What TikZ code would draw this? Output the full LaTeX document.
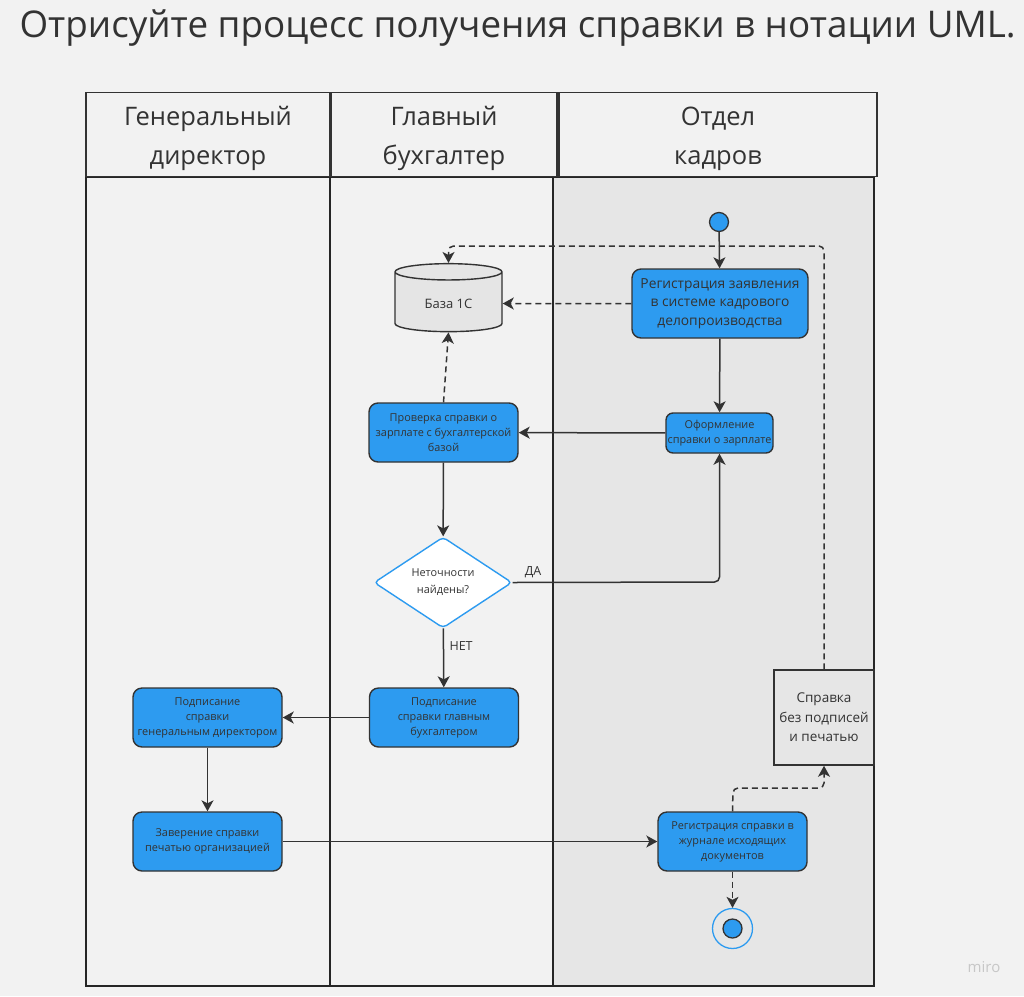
\documentclass[tikz,border=0pt]{standalone}
\usepackage{fontspec}
\setmainfont{Open Sans}
\usetikzlibrary{shapes.geometric,arrows.meta}
\definecolor{bggray}{HTML}{F2F2F2}
\definecolor{lanegray}{HTML}{E6E6E6}
\definecolor{actblue}{HTML}{2D9BF0}
\definecolor{ink}{HTML}{333333}
\tikzset{
  act/.style={draw=ink, fill=actblue, rounded corners=9pt, line width=1.4pt, align=center, text=ink,
    font=\fontsize{10.9}{15}\selectfont, minimum width=149pt, minimum height=59pt, inner sep=1pt},
  headbox/.style={draw=ink, line width=1.5pt, minimum height=84pt},
  headtxt/.style={align=center, text=ink, font=\fontsize{25.5}{39}\selectfont},
  flow/.style={draw=ink, line width=1.5pt, -{Stealth[length=11pt,width=12pt,inset=3pt]}},
  dflow/.style={flow, dash pattern=on 6pt off 4pt},
  lbl/.style={text=ink, font=\fontsize{12.5}{14}\selectfont},
}
\begin{document}
\begin{tikzpicture}[x=1pt, y=-1pt]
  \fill[bggray] (0,0) rectangle (1024,996);
  \useasboundingbox (0,0) rectangle (1024,996);
  \node[anchor=west, text=ink, font=\fontsize{36.8}{40}\selectfont] (title) at (16,28) {Отрисуйте процесс получения справки в нотации UML.};
  \node[text=black!22, font=\fontsize{15}{17}\selectfont] (miro) at (984,967) {miro};

  \fill[lanegray] (553,177) rectangle (874,986);
  \foreach \a/\b in {86/330, 330/553, 553/874}{ \draw[line width=1.6pt, black!85] (\a,177) rectangle (\b,986); }
  \node[headbox, minimum width=244pt] (gd) at (208,134.5) {};
  \node[headbox, minimum width=226pt] (gb) at (444,134.5) {};
  \node[headbox, minimum width=318pt] (ok) at (718,134.5) {};
  \node[headtxt] (gdtxt) at (208,138.5) {Генеральный\\директор};
  \node[headtxt] (gbtxt) at (444,138.5) {Главный\\бухгалтер};
  \node[headtxt] (oktxt) at (718,138.5) {Отдел\\кадров};

  \node[circle, draw=ink, fill=actblue, line width=1.3pt, minimum size=19pt, inner sep=0] (start) at (719,222) {};
  \node[act, font=\fontsize{13.8}{18.5}\selectfont, minimum width=176pt, minimum height=69pt] (reg) at (720,303.5) {Регистрация заявления\\в системе кадрового\\делопроизводства};
  \node[cylinder, shape border rotate=90, aspect=0.3, draw=ink, fill=black!10, line width=1.4pt, minimum width=107pt, minimum height=68pt,
    text=ink, font=\fontsize{13}{15}\selectfont] (db) at (448.5,303.5) {База 1С};
  \node[act, minimum width=107pt, minimum height=40pt, rounded corners=7pt] (form) at (719.5,433) {Оформление\\справки о зарплате};
  \node[act] (check) at (443.5,432.5) {Проверка справки о\\зарплате с бухгалтерской\\базой};
  \node[diamond, draw=actblue, fill=white, line width=1.4pt, aspect=1.5, minimum width=138pt, minimum height=91pt, inner sep=0,
    rounded corners=4pt, align=center, text=ink, font=\fontsize{10.9}{17}\selectfont] (dec) at (443,582.5) {Неточности\\найдены?};
  \node[act] (signgb) at (444,717.5) {Подписание\\справки главным\\бухгалтером};
  \node[act] (signgd) at (207.5,717.5) {Подписание\\справки\\генеральным директором};
  \node[act] (stamp) at (207.5,841.5) {Заверение справки\\печатью организацией};
  \node[act] (journal) at (732.5,841.5) {Регистрация справки в\\журнале исходящих\\документов};
  \node[draw=ink, fill=lanegray, line width=1.5pt, minimum width=100pt, minimum height=95pt, align=center, text=ink,
    font=\fontsize{13.5}{19.5}\selectfont] (note) at (824,717.5) {Справка\\без подписей\\и печатью};
  \node[circle, draw=actblue, line width=1.3pt, minimum size=40pt, inner sep=0] (endring) at (732.5,928.5) {};
  \node[circle, draw=ink, fill=actblue, line width=1.3pt, minimum size=19pt, inner sep=0] (end) at (732.5,928.5) {};

  \draw[flow] (start) -- (reg);
  \draw[dflow] (reg) -- (db);
  \draw[dflow, rounded corners=5pt] (note.north) -- (824,246) -- (448.5,246) -- (db.north);
  \draw[flow] (reg) -- (form);
  \draw[flow] (form) -- (check);
  \draw[dflow] (check.north) -- (db.south);
  \draw[flow] (check) -- (dec);
  \draw[flow, rounded corners=5pt] (dec.east) -- (719.5,582) -- (form.south);
  \node[lbl] (yes) at (533,572) {ДА};
  \draw[flow] (dec) -- (signgb) node[lbl, pos=0.3, right=2pt] (no) {НЕТ};
  \draw[flow] (signgb) -- (signgd);
  \draw[flow] (signgd) -- (stamp);
  \draw[flow] (stamp) -- (journal);
  \draw[dflow, rounded corners=5pt] (journal.north) -- (733,788) -- (824,788) -- (note.south);
  \draw[dflow] (journal) -- (endring);
\end{tikzpicture}
\end{document}
